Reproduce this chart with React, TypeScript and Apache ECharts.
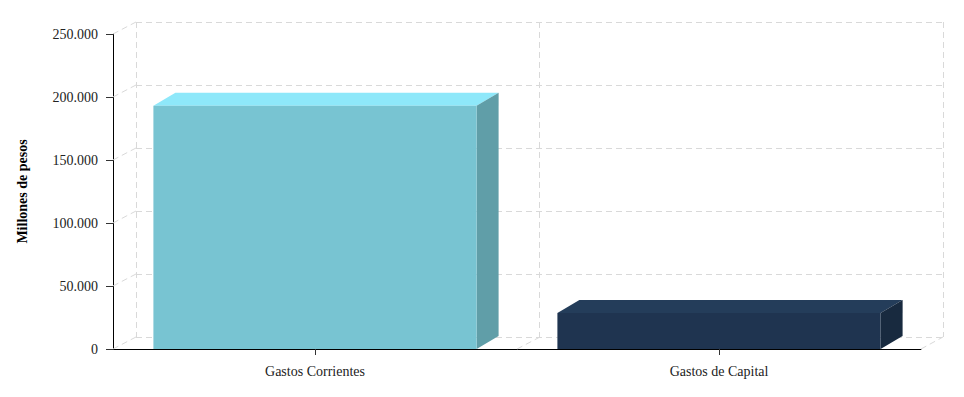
import React, { useEffect, useRef } from "react";
import * as echarts from "echarts";

const categories = ["Gastos Corrientes", "Gastos de Capital"];
const values = [193000, 28500];
const yMin = 0;
const yMax = 250000;
const yInterval = 50000;
const yTickValues = [0, 50000, 100000, 150000, 200000, 250000];
const yTitle = "Millones de pesos";

const frontColors = ["#78c4d2", "#1f3450"];
const topColors = ["#8ee8fa", "#243d5a"];
const sideColors = ["#609ea8", "#182a3f"];

const DX = 23;
const DY = -12;
const BAR_DX = 22;
const BAR_DY = -13;
const FONT = "'Liberation Serif', 'Times New Roman', serif";
const DASH = { stroke: "#d9d9d9", lineWidth: 1, lineDash: [6, 4] };

function fmt(v: number) {
  return String(v).replace(/\B(?=(\d{3})+(?!\d))/g, ".");
}

export default function App() {
  const ref = useRef<HTMLDivElement>(null);
  useEffect(() => {
    if (!ref.current) return;
    const chart = echarts.init(ref.current, null, { renderer: "svg" });
    const option: any = {
      animation: false,
      grid: [
        { left: 113, right: 43, top: 34, bottom: 48, containLabel: false },
        { left: 136, right: 21, top: 22, bottom: 60, containLabel: false },
      ],
      xAxis: [
        {
          type: "category",
          gridIndex: 0,
          data: categories,
          axisLine: { show: true, lineStyle: { color: "#000", width: 1 } },
          axisTick: { show: true, alignWithLabel: true, length: 6, lineStyle: { color: "#333" } },
          axisLabel: { margin: 15, fontSize: 14, fontFamily: FONT, color: "#222" },
          splitLine: { show: false },
        },
        {
          type: "category",
          gridIndex: 1,
          data: categories,
          axisLine: { show: false },
          axisTick: { show: false },
          axisLabel: { show: false },
          splitLine: { show: true, lineStyle: { color: "#d9d9d9", type: [6, 4], width: 1 } },
        },
      ],
      yAxis: [
        {
          type: "value",
          gridIndex: 0,
          min: yMin,
          max: yMax,
          interval: yInterval,
          name: yTitle,
          nameLocation: "middle",
          nameGap: 84,
          nameTextStyle: { fontSize: 14, fontWeight: "bold", fontFamily: FONT, color: "#000" },
          axisLine: { show: true, lineStyle: { color: "#000", width: 1 } },
          axisTick: { show: true, length: 7, lineStyle: { color: "#333" } },
          axisLabel: { margin: 15, fontSize: 14, fontFamily: FONT, color: "#222", formatter: (v: number) => fmt(v) },
          splitLine: { show: false },
        },
        {
          type: "value",
          gridIndex: 1,
          min: yMin,
          max: yMax,
          interval: yInterval,
          axisLine: { show: false },
          axisTick: { show: false },
          axisLabel: { show: false },
          splitLine: { show: true, lineStyle: { color: "#d9d9d9", type: [6, 4], width: 1 } },
        },
      ],
      series: [
        {
          type: "custom",
          xAxisIndex: 0,
          yAxisIndex: 0,
          z: 1,
          silent: true,
          data: yTickValues.map((v) => [0, v]),
          encode: { x: 0, y: 1 },
          renderItem: (params: any, api: any) => {
            const cs = params.coordSys;
            const p = api.coord([0, api.value(1)]);
            return {
              type: "line",
              shape: { x1: cs.x, y1: p[1], x2: cs.x + DX, y2: p[1] + DY },
              style: DASH,
            };
          },
        },
        {
          type: "custom",
          xAxisIndex: 0,
          yAxisIndex: 0,
          z: 1,
          silent: true,
          data: [[0, 0]],
          encode: { x: 0, y: 1 },
          renderItem: (params: any, api: any) => {
            const cs = params.coordSys;
            const yb = cs.y + cs.height;
            const xs = [cs.x + cs.width / 2, cs.x + cs.width];
            return {
              type: "group",
              children: xs.map((x, i) => ({
                type: "line",
                shape: { x1: x, y1: yb, x2: x + (i === 1 ? 22 : DX), y2: yb + DY },
                style: DASH,
              })),
            };
          },
        },
        {
          type: "custom",
          xAxisIndex: 0,
          yAxisIndex: 0,
          z: 5,
          data: values.map((v, i) => [i, v]),
          encode: { x: 0, y: 1 },
          renderItem: (params: any, api: any) => {
            const i = params.dataIndex;
            const base = api.coord([api.value(0), 0]);
            const top = api.coord([api.value(0), api.value(1)]);
            const w = api.size([1, 0])[0] * 0.8;
            const x0 = base[0] - w / 2;
            const x1 = base[0] + w / 2;
            const yb = base[1];
            const yt = top[1];
            return {
              type: "group",
              children: [
                {
                  type: "polygon",
                  shape: { points: [[x0, yt], [x1, yt], [x1 + BAR_DX, yt + BAR_DY], [x0 + BAR_DX, yt + BAR_DY]] },
                  style: { fill: topColors[i] },
                },
                {
                  type: "polygon",
                  shape: { points: [[x1, yt], [x1 + BAR_DX, yt + BAR_DY], [x1 + BAR_DX, yb + BAR_DY], [x1, yb]] },
                  style: { fill: sideColors[i] },
                },
                {
                  type: "rect",
                  shape: { x: x0, y: yt, width: w, height: yb - yt },
                  style: { fill: frontColors[i] },
                },
              ],
            };
          },
        },
      ],
    };
    chart.setOption(option);
    return () => chart.dispose();
  }, []);
  return (
    <div
      ref={ref}
      style={{ position: "fixed", left: 0, top: 0, width: 964, height: 397, background: "#fff" }}
    />
  );
}
